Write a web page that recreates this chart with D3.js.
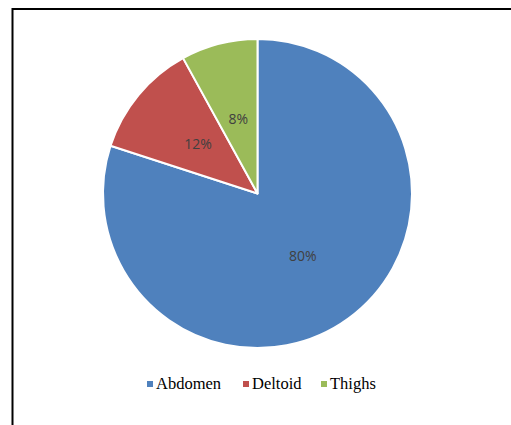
<!DOCTYPE html>
<html>
<head>
<meta charset="utf-8">
<script src="https://cdn.jsdelivr.net/npm/d3@7"></script>
<style>
  body { margin: 0; background: #fff; }
  svg { display: block; }
</style>
</head>
<body>
<svg width="511" height="425"></svg>
<script>
// данные диаграммы
const categories = ["Abdomen", "Deltoid", "Thighs"];
const values = [80, 12, 8];
const colors = ["#4F81BD", "#C0504D", "#9BBB59"];

const svg = d3.select("svg");

// рамка области диаграммы (верх и левый край)
svg.append("line")
    .attr("x1", 12).attr("y1", 9).attr("x2", 511).attr("y2", 9)
    .attr("stroke", "#000").attr("stroke-width", 2);
svg.append("line")
    .attr("x1", 12.5).attr("y1", 8).attr("x2", 12.5).attr("y2", 425)
    .attr("stroke", "#000").attr("stroke-width", 2);

const cx = 257.5, cy = 193.5, R = 154.5;

const pie = d3.pie().sort(null).value(d => d.value);
const data = pie(categories.map((c, i) => ({name: c, value: values[i], color: colors[i]})));

const arc = d3.arc().innerRadius(0).outerRadius(R);
const labelArc = d3.arc().innerRadius(R * 0.5).outerRadius(R * 0.5);

const g = svg.append("g").attr("transform", `translate(${cx}, ${cy})`);

g.selectAll("path")
    .data(data)
    .enter()
    .append("path")
    .attr("d", arc)
    .attr("fill", d => d.data.color)
    .attr("stroke", "#fff")
    .attr("stroke-width", 2)
    .attr("stroke-linejoin", "round");

const total = d3.sum(values);
g.selectAll(".lbl")
    .data(data)
    .enter()
    .append("text")
    .attr("transform", d => `translate(${labelArc.centroid(d)})`)
    .attr("text-anchor", "middle")
    .attr("dy", "0.35em")
    .style("font-family", "'Open Sans', 'DejaVu Sans', sans-serif")
    .style("font-size", "14px")
    .style("fill", "#404040")
    .text(d => Math.round(d.data.value / total * 100) + "%");

// легенда
const legendX = [147, 243, 321];
const legend = svg.append("g");
categories.forEach((c, i) => {
    legend.append("rect")
        .attr("x", legendX[i]).attr("y", 381)
        .attr("width", 6).attr("height", 6)
        .attr("fill", colors[i]);
    legend.append("text")
        .attr("x", legendX[i] + 9).attr("y", 389)
        .style("font-family", "'Liberation Serif', 'Times New Roman', serif")
        .style("font-size", "16.5px")
        .style("fill", "#000")
        .text(c);
});
</script>
</body>
</html>
